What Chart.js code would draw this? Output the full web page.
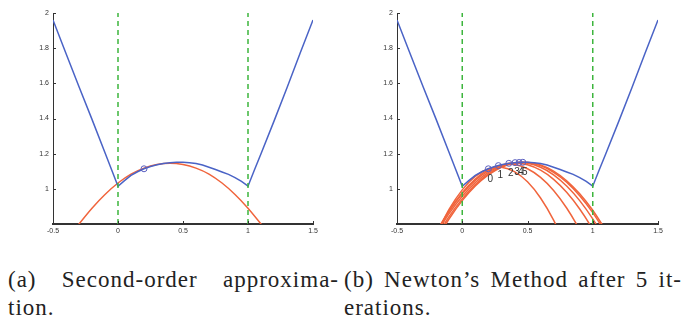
<!DOCTYPE html>
<html>
<head>
<meta charset="utf-8">
<script src="https://cdn.jsdelivr.net/npm/chart.js@4"></script>
<style>
  body { margin: 0; background: #fff; width: 689px; height: 322px; position: relative; overflow: hidden; }
  canvas { position: absolute; top: 0; }
  #chartA { left: 0; }
  #chartB { left: 345px; }
  .caption { position: absolute; top: 266px; font-family: "Liberation Serif", "DejaVu Serif", "Times New Roman", serif; font-size: 23px; line-height: 28px; letter-spacing: 1px; color: #222; }
  .caption .first { text-align: justify; text-align-last: justify; }
  #capA { left: 8px; width: 331px; }
  #capB { left: 344px; width: 338px; }
</style>
</head>
<body>
<canvas id="chartA" width="344" height="245"></canvas>
<canvas id="chartB" width="344" height="245"></canvas>
<div class="caption" id="capA"><div class="first">(a) Second-order approxima-</div><div>tion.</div></div>
<div class="caption" id="capB"><div class="first">(b) Newton’s Method after 5 it-</div><div>erations.</div></div>
<script>
// axes
const xTicks = [-0.5, 0, 0.5, 1, 1.5];
const yTicks = [1, 1.2, 1.4, 1.6, 1.8, 2];
const xRange = [-0.5, 1.5];
const yRange = [0.8, 2];
const boundaryX = [0, 1];

// objective (blue), same in both panels
const curveX = [-0.5, -0.4, -0.3, -0.2, -0.1, -0.05, 0, 0.05, 0.1, 0.15, 0.2, 0.25, 0.3, 0.35, 0.4, 0.45, 0.5,
  0.55, 0.6, 0.65, 0.7, 0.75, 0.8, 0.85, 0.9, 0.95, 1, 1.05, 1.1, 1.2, 1.3, 1.4, 1.5];
const curveY = [1.96, 1.77, 1.58, 1.395, 1.205, 1.11, 1.015, 1.047, 1.076, 1.097, 1.114, 1.127, 1.137, 1.144, 1.149, 1.151, 1.151,
  1.149, 1.144, 1.135, 1.123, 1.11, 1.096, 1.082, 1.064, 1.042, 1.015, 1.108, 1.2, 1.385, 1.575, 1.77, 1.96];

// panel (a): one quadratic approximation at the start point
const approxX = [-0.4, -0.3, -0.2, -0.1, 0, 0.1, 0.2, 0.3, 0.4, 0.5, 0.6, 0.7, 0.8, 0.9, 1, 1.1, 1.2];
const approxY = [0.705, 0.8, 0.89, 0.968, 1.033, 1.084, 1.118, 1.138, 1.145, 1.138, 1.118, 1.084, 1.033, 0.968, 0.89, 0.8, 0.705];
const startX = [0.2];
const startY = [1.114];

// panel (b): Newton iterates and their quadratic models
const iterX = [0.2, 0.277, 0.357, 0.405, 0.436, 0.464];
const iterY = [1.114, 1.132, 1.145, 1.149, 1.15, 1.151];
const iterLabels = ["0", "1", "2", "3", "4", "5"];
const newtonX = [-0.2, -0.1, 0, 0.1, 0.2, 0.3, 0.4, 0.5, 0.6, 0.7, 0.8, 0.9, 1, 1.1];
const step0 = [0.74, 0.884, 0.994, 1.071, 1.114, 1.123, 1.098, 1.04, 0.948, 0.822, 0.662, 0.468, 0.241, -0.02];
const step1 = [0.747, 0.875, 0.978, 1.056, 1.109, 1.136, 1.138, 1.114, 1.065, 0.991, 0.891, 0.766, 0.616, 0.44];
const step2 = [0.756, 0.874, 0.972, 1.048, 1.102, 1.135, 1.147, 1.137, 1.106, 1.054, 0.98, 0.885, 0.769, 0.631];
const step3 = [0.742, 0.86, 0.958, 1.036, 1.094, 1.131, 1.149, 1.146, 1.123, 1.08, 1.016, 0.933, 0.829, 0.705];
const step4 = [0.723, 0.843, 0.943, 1.024, 1.085, 1.126, 1.148, 1.149, 1.132, 1.094, 1.038, 0.961, 0.865, 0.749];
const step5 = [0.708, 0.83, 0.933, 1.016, 1.079, 1.123, 1.147, 1.151, 1.136, 1.101, 1.046, 0.972, 0.878, 0.764];
const steps = [step0, step1, step2, step3, step4, step5];

const BLUE = "#4a63c6";
const RED = "#f0643c";
const GREEN = "#3db53d";
const AXIS = "#333";
const FONT = '"Liberation Sans", Arial, sans-serif';

function pts(xs, ys) {
  return xs.map((x, i) => ({ x, y: ys[i] }));
}

function lineSet(data, color, extra) {
  return Object.assign({ data, showLine: true, borderColor: color, borderWidth: 1.5, pointRadius: 0, tension: 0 }, extra || {});
}

function boundarySets() {
  return boundaryX.map((x) => lineSet([{ x, y: yRange[0] }, { x, y: yRange[1] }], GREEN, { borderDash: [5, 4] }));
}

function markerSet(xs, ys) {
  return {
    data: pts(xs, ys),
    showLine: false,
    pointRadius: 3,
    pointBorderWidth: 1,
    pointBorderColor: "#5a5fc0",
    pointBackgroundColor: "rgba(0,0,0,0)",
  };
}

// small inward tick marks, like the original axes
const inwardTicks = {
  id: "inwardTicks",
  afterDraw(chart) {
    const { ctx, chartArea, scales } = chart;
    ctx.save();
    ctx.strokeStyle = AXIS;
    ctx.lineWidth = 1;
    ctx.beginPath();
    xTicks.forEach((v) => {
      const px = Math.round(scales.x.getPixelForValue(v)) + 0.5;
      ctx.moveTo(px, chartArea.bottom);
      ctx.lineTo(px, chartArea.bottom - 3);
    });
    yTicks.forEach((v) => {
      const py = Math.round(scales.y.getPixelForValue(v)) + 0.5;
      ctx.moveTo(chartArea.left, py);
      ctx.lineTo(chartArea.left + 3, py);
    });
    ctx.stroke();
    ctx.restore();
  },
};

const iterLabelPlugin = {
  id: "iterLabels",
  afterDatasetsDraw(chart) {
    const { ctx, scales } = chart;
    ctx.save();
    ctx.font = "10px " + FONT;
    ctx.fillStyle = AXIS;
    ctx.textAlign = "center";
    ctx.textBaseline = "middle";
    iterLabels.forEach((label, i) => {
      ctx.fillText(label, scales.x.getPixelForValue(iterX[i]) + 2, scales.y.getPixelForValue(iterY[i]) + 10);
    });
    ctx.restore();
  },
};

function makeChart(id, datasets, yWidth, plugins) {
  return new Chart(document.getElementById(id), {
    type: "scatter",
    data: { datasets },
    options: {
      responsive: false,
      animation: false,
      devicePixelRatio: 1,
      layout: { padding: { left: 0, top: 13, right: 31, bottom: 0 } },
      elements: { line: { capBezierPoints: false } },
      plugins: { legend: { display: false }, tooltip: { enabled: false } },
      scales: {
        x: {
          type: "linear",
          min: xRange[0],
          max: xRange[1],
          afterBuildTicks: (s) => { s.ticks = xTicks.map((v) => ({ value: v })); },
          afterFit: (s) => { s.height = 21; },
          ticks: { font: { size: 7, family: FONT }, color: AXIS, padding: 3, maxRotation: 0, autoSkip: false, callback: (v) => String(v) },
          grid: { display: false, drawTicks: false },
          border: { color: AXIS, width: 2 },
        },
        y: {
          min: yRange[0],
          max: yRange[1],
          afterBuildTicks: (s) => { s.ticks = yTicks.map((v) => ({ value: v })); },
          afterFit: (s) => { s.width = yWidth; },
          ticks: { font: { size: 7, family: FONT }, color: AXIS, padding: 4, autoSkip: false, callback: (v) => String(v) },
          grid: { display: false, drawTicks: false },
          border: { color: AXIS, width: 1 },
        },
      },
    },
    plugins,
  });
}

// first dataset is drawn on top
makeChart("chartA", [
  markerSet(startX, startY),
  ...boundarySets(),
  lineSet(pts(curveX, curveY), BLUE),
  lineSet(pts(approxX, approxY), RED, { tension: 0.3 }),
], 53, [inwardTicks]);

makeChart("chartB", [
  markerSet(iterX, iterY),
  ...boundarySets(),
  lineSet(pts(curveX, curveY), BLUE),
  ...steps.map((s) => lineSet(pts(newtonX, s), RED, { tension: 0.3 })),
], 52, [inwardTicks, iterLabelPlugin]);
</script>
</body>
</html>
